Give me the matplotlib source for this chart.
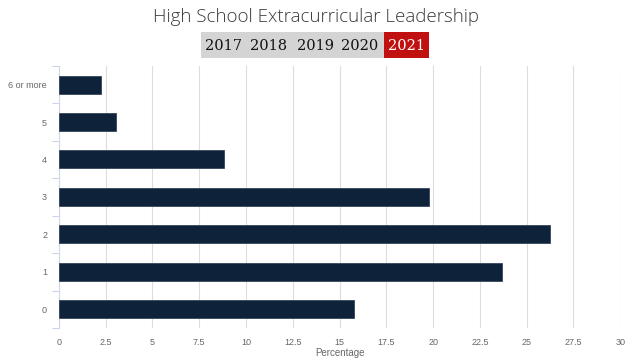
import numpy as np
import matplotlib.pyplot as plt
from matplotlib.patches import Rectangle

categories = ["0", "1", "2", "3", "4", "5", "6 or more"]
percent = [15.8, 23.7, 26.25, 19.8, 8.8, 3.05, 2.25]
years = ["2017", "2018", "2019", "2020", "2021"]
xticks = [0, 2.5, 5, 7.5, 10, 12.5, 15, 17.5, 20, 22.5, 25, 27.5, 30]

fig = plt.figure(figsize=(6.4, 3.64), dpi=100)
ax = fig.add_axes([0.092, 0.099, 0.877, 0.72])

ypos = np.arange(len(categories))
ax.barh(ypos, percent, height=0.48, color="#0e233a", edgecolor="#34475c", linewidth=0.6, zorder=3)

ax.set_xlim(0, 30)
ax.set_ylim(-0.5, len(categories) - 0.5)
ax.set_xticks(xticks)
ax.set_xticklabels([("%g" % v) for v in xticks], fontsize=6.5, color="#666666", family="Liberation Sans")
ax.set_yticks(ypos)
ax.set_yticklabels(categories, fontsize=6.5, color="#666666", family="Liberation Sans")
ax.set_yticks(np.arange(-0.5, len(categories)), minor=True)
ax.tick_params(axis="y", which="major", length=0, pad=8.5)
ax.tick_params(axis="y", which="minor", length=5, color="#ccd6eb", width=0.8)
ax.tick_params(axis="x", length=0, pad=7)
ax.grid(axis="x", color="#dddddd", linewidth=0.8, zorder=0)

for s in ["top", "right", "bottom"]:
    ax.spines[s].set_visible(False)
ax.spines["left"].set_color("#ccd6eb")
ax.spines["left"].set_linewidth(0.8)

ax.set_xlabel("Percentage", fontsize=7, color="#666666", family="Liberation Sans", labelpad=1)

fig.text(0.494, 0.953, "High School Extracurricular Leadership", ha="center", va="center",
         fontsize=13.5, color="#3a3a3a", family="Open Sans", fontweight="light")

# year selector
fig.patches.append(Rectangle((201 / 640, 1 - 58 / 364), 183 / 640, 26 / 364,
                             transform=fig.transFigure, facecolor="#d4d4d4", edgecolor="none"))
fig.patches.append(Rectangle((384 / 640, 1 - 58 / 364), 45 / 640, 26 / 364,
                             transform=fig.transFigure, facecolor="#c0100f", edgecolor="none"))
xs = [224, 269, 315, 360, 406.5]
for x, y in zip(xs, years):
    fig.text(x / 640, 1 - 45.5 / 364, y, ha="center", va="center", fontsize=10.5,
             family="DejaVu Serif", color="white" if y == "2021" else "#111111")

fig.savefig("out.png", dpi=100)
